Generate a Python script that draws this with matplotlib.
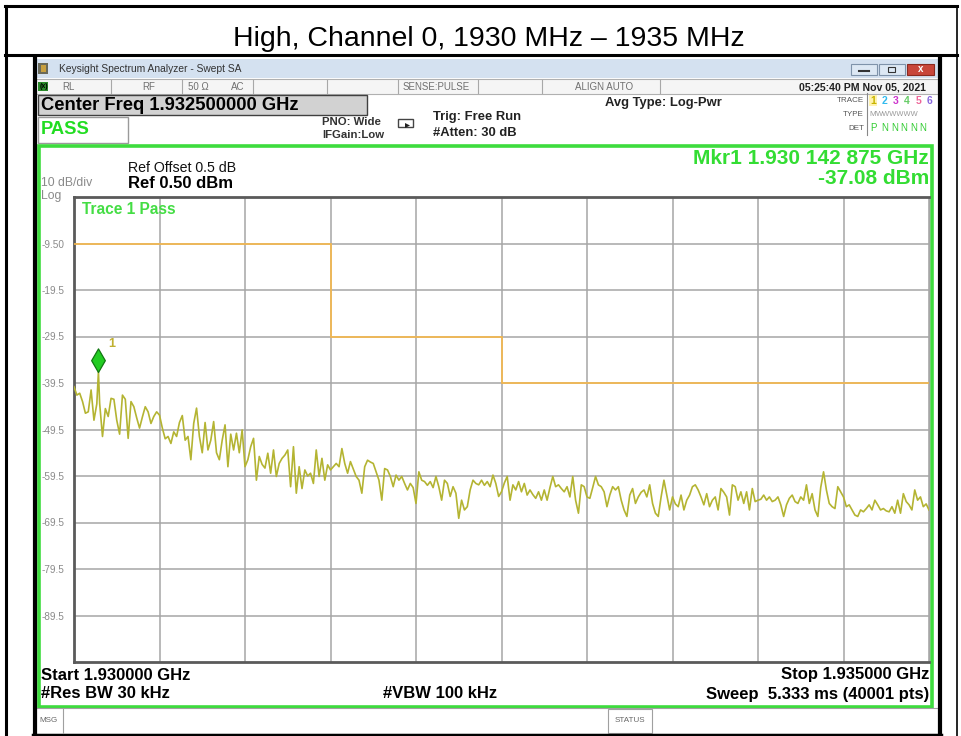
import numpy as np
import matplotlib
matplotlib.use("Agg")
import matplotlib.pyplot as plt
from matplotlib.patches import Rectangle, Polygon
from matplotlib.path import Path
from matplotlib.lines import Line2D

plt.rcParams['font.family'] = ['Liberation Sans', 'DejaVu Sans']

# ---------------- data ----------------
start_mhz = 1930.0
stop_mhz = 1935.0

# measured trace (dBm), 30 samples per division, 10 divisions + end point
trace_dbm = [
    # 1930.0 - 1930.5
    -40.3, -42.1, -41.7, -43.5, -46.0, -45.7, -41.0, -47.5, -44.0, -43.9,
    -51.0, -45.0, -46.7, -42.8, -43.0, -47.5, -50.5, -42.1, -43.0, -51.4,
    -43.5, -44.6, -47.0, -49.2, -46.8, -44.6, -45.7, -48.2, -46.7, -45.7,
    # 1930.5 - 1931.0
    -46.4, -49.2, -51.5, -51.0, -52.5, -50.0, -51.0, -48.0, -46.5, -51.8,
    -51.0, -56.0, -48.2, -44.9, -51.0, -54.5, -48.0, -53.9, -51.8, -47.8,
    -54.5, -56.0, -51.8, -48.5, -57.5, -50.5, -53.9, -50.3, -54.5, -49.6,
    # 1931.0 - 1931.5
    -57.5, -56.0, -53.2, -51.4, -60.4, -55.3, -57.0, -57.8, -54.6, -58.9,
    -53.9, -59.6, -56.8, -55.7, -55.0, -53.9, -61.8, -53.2, -63.2, -57.5,
    -62.2, -58.2, -59.5, -58.9, -61.1, -53.9, -59.6, -55.7, -60.4, -57.1,
    # 1931.5 - 1932.0
    -58.2, -57.5, -56.8, -57.5, -53.6, -56.8, -58.9, -56.4, -58.0, -59.6,
    -60.4, -63.2, -57.5, -56.1, -56.5, -56.8, -58.6, -60.4, -64.7, -57.9,
    -58.2, -59.6, -61.8, -59.3, -60.4, -59.6, -61.1, -62.5, -61.1, -62.0,
    # 1932.0 - 1932.5
    -65.4, -58.6, -60.4, -60.7, -61.5, -60.7, -62.0, -59.6, -61.8, -64.7,
    -60.4, -61.1, -63.9, -61.8, -63.2, -68.6, -64.7, -66.8, -66.1, -62.5,
    -60.4, -61.1, -61.4, -60.4, -61.5, -60.7, -61.8, -59.3, -61.1, -63.9,
    # 1932.5 - 1933.0
    -62.9, -61.0, -59.6, -64.7, -61.4, -62.5, -60.7, -62.9, -61.1, -63.6,
    -62.5, -63.5, -64.3, -62.9, -64.7, -62.5, -64.7, -62.0, -59.6, -61.8,
    -61.4, -62.2, -62.9, -61.8, -64.0, -59.6, -64.7, -67.5, -61.4, -61.8,
    # 1933.0 - 1933.5
    -64.0, -64.3, -62.0, -59.6, -61.4, -61.8, -62.9, -66.1, -63.6, -61.8,
    -62.5, -61.8, -64.7, -66.8, -68.2, -63.6, -62.2, -65.4, -64.0, -63.0,
    -62.5, -64.0, -61.4, -65.4, -67.5, -68.2, -64.0, -60.4, -63.6, -66.8,
    # 1933.5 - 1934.0
    -64.0, -65.5, -66.1, -63.6, -66.8, -64.7, -63.6, -61.8, -61.4, -62.5,
    -64.0, -65.7, -63.3, -66.1, -64.7, -64.0, -66.8, -62.2, -63.0, -64.0,
    -67.9, -61.4, -61.8, -64.7, -62.9, -65.4, -62.9, -66.8, -62.2, -65.0,
    # 1934.0 - 1934.5
    -64.7, -64.5, -63.6, -64.7, -64.0, -65.0, -64.7, -64.0, -65.7, -68.2,
    -65.7, -64.3, -63.6, -65.0, -65.4, -64.0, -64.7, -61.4, -65.4, -63.3,
    -66.8, -68.2, -62.0, -58.6, -62.5, -65.4, -66.1, -66.5, -61.8, -62.9,
    # 1934.5 - 1935.0
    -64.0, -66.1, -65.7, -66.8, -67.9, -68.2, -66.8, -67.2, -66.5, -65.7,
    -66.8, -64.7, -65.7, -66.8, -66.5, -67.0, -67.2, -66.1, -67.5, -64.7,
    -67.5, -63.3, -65.0, -65.7, -66.8, -62.5, -64.7, -64.0, -66.1, -65.5,
    -66.8,
]

marker_mhz = 1930.142875
marker_dbm = -37.08

# limit line: breakpoints (MHz) and levels (dBm)
limit_edges = [1930.0, 1931.5, 1932.5, 1935.0]
limit_levels = [-9.5, -29.5, -39.5]

ref_level = 0.5
db_per_div = 10
ytick_values = [-9.5, -19.5, -29.5, -39.5, -49.5, -59.5, -69.5, -79.5, -89.5]
ytick_labels = ['-9.50', '-19.5', '-29.5', '-39.5', '-49.5', '-59.5', '-69.5', '-79.5', '-89.5']

title = "High, Channel 0, 1930 MHz \u2013 1935 MHz"

# ---------------- figure ----------------
W, H = 961, 736
fig = plt.figure(figsize=(W / 100, H / 100), dpi=100)
fig.patch.set_facecolor('white')

bg = fig.add_axes([0, 0, 1, 1], zorder=0)
bg.set_xlim(0, W); bg.set_ylim(H, 0); bg.axis('off')


def rect(ax, x0, y0, x1, y1, fc='none', ec='none', lw=1.0, z=1):
    ax.add_patch(Rectangle((x0, y0), x1 - x0, y1 - y0, facecolor=fc,
                           edgecolor=ec, linewidth=lw, zorder=z))


def hline(ax, x0, x1, y, c='black', lw=1.0, z=2):
    ax.add_line(Line2D([x0, x1], [y, y], color=c, lw=lw, zorder=z))


def vline(ax, x, y0, y1, c='black', lw=1.0, z=2):
    ax.add_line(Line2D([x, x], [y0, y1], color=c, lw=lw, zorder=z))


def txt(ax, x, y, s, size, color='black', weight='normal', ha='left', va='center', **kw):
    ax.text(x, y, s, fontsize=size, color=color, fontweight=weight, ha=ha, va=va, **kw)


# outer table
hline(bg, 5, 957, 6, lw=2.2)
hline(bg, 5, 957, 55, lw=2.2)
vline(bg, 6, 6, H, lw=2.2)
vline(bg, 957, 6, H, lw=1.2)
txt(bg, 489, 46, title, 20.5, ha='center', va='baseline')

# analyzer window
rect(bg, 33, 57, 941, 736, fc='white', ec='none')
vline(bg, 34.5, 57, 736, lw=3)
vline(bg, 939.5, 57, 736, lw=3)
hline(bg, 33, 941, 734.5, lw=2.5)

# title bar
rect(bg, 36, 59, 938, 78, fc='#d4e1f0', ec='none')
rect(bg, 38, 63, 48, 74, fc='#6a6a5a', ec='none', z=2)
rect(bg, 41, 65, 46, 72, fc='#c8a040', ec='none', z=3)
txt(bg, 59, 69, "Keysight Spectrum Analyzer - Swept SA", 7.4, color='#333333')
rect(bg, 851, 64, 877, 75, fc='#dde8f4', ec='#7f93aa', lw=0.8, z=2)
hline(bg, 859, 869, 71, c='#333333', lw=1.5, z=3)
rect(bg, 879, 64, 905, 75, fc='#dde8f4', ec='#7f93aa', lw=0.8, z=2)
rect(bg, 888, 67, 895, 72, fc='none', ec='#333333', lw=0.8, z=3)
rect(bg, 907, 64, 934, 75, fc='#c8463a', ec='#8a2a20', lw=0.8, z=2)
txt(bg, 920.5, 69.5, "x", 7, color='white', weight='bold', ha='center')

# status row
rect(bg, 36, 79, 938, 94, fc='#f5f5f5', ec='#b0b0b0', lw=0.8)
for xd in [111, 182, 253, 327, 398, 478, 542, 660]:
    vline(bg, xd, 80, 93, c='#a8a8a8', lw=0.8)
rect(bg, 38, 82, 48, 91, fc='#2a8a2a', ec='none', z=2)
txt(bg, 40, 87, "(x)", 5, color='black', weight='bold')
for x, s in [(62, "RL"), (142, "RF"), (188, "50 \u03a9"), (231, "AC"),
             (403, "SENSE:PULSE"), (575, "ALIGN AUTO")]:
    txt(bg, x, 87, s, 7, color='#707070')
txt(bg, 926, 87, "05:25:40 PM Nov 05, 2021", 7.6, color='#222222', weight='bold', ha='right')

# settings
rect(bg, 38, 95, 367, 115, fc='#d2d2d2', ec='#404040', lw=1.0)
txt(bg, 41, 105.5, "Center Freq 1.932500000 GHz", 13.2, weight='bold')
rect(bg, 38, 117, 128, 143, fc='white', ec='#9a9a9a', lw=1.0)
txt(bg, 41, 130, "PASS", 13.2, color='#22dd22', weight='bold')
txt(bg, 322, 122, "PNO: Wide", 8.2, color='#333333', weight='bold')
txt(bg, 322, 135, "IFGain:Low", 8.2, color='#333333', weight='bold')
# trigger loop icon
bg.add_patch(Rectangle((398, 119), 15, 8, facecolor='white', edgecolor='#444444',
                       lw=1.0, zorder=2))
bg.add_patch(Polygon([[405, 123], [410, 125.5], [405, 128]], closed=True,
                     facecolor='#222222', edgecolor='none', zorder=3))
txt(bg, 433, 117, "Trig: Free Run", 9.4, color='#222222', weight='bold')
txt(bg, 433, 133, "#Atten: 30 dB", 9.4, color='#222222', weight='bold')
txt(bg, 605, 103, "Avg Type: Log-Pwr", 9.4, color='#222222', weight='bold')

# trace info block
txt(bg, 864, 100, "TRACE", 5.8, color='#555555', ha='right')
txt(bg, 864, 114, "TYPE", 5.8, color='#555555', ha='right')
txt(bg, 864, 128, "DET", 5.8, color='#555555', ha='right')
vline(bg, 867, 93, 135, c='#888888', lw=0.8)
rect(bg, 869, 95, 877, 106, fc='#fff3b0', ec='none')
trace_cols = ['#c8b400', '#33bbee', '#cc33cc', '#66cc66', '#ee6699', '#8866dd']
for i, c in enumerate(trace_cols):
    txt(bg, 873 + i * 11.3, 101, str(i + 1), 7.5, color=c, weight='bold', ha='center')
txt(bg, 869, 114, "M", 5.8, color='#999999')
txt(bg, 876, 114, "WWWWWW", 5.4, color='#999999')
txt(bg, 870, 128, "P", 7, color='#33cc33')
for i in range(5):
    txt(bg, 885 + i * 9.5, 128, "N", 7, color='#33cc33', ha='center')

# green measurement frame
rect(bg, 38.5, 146, 932, 706.5, fc='white', ec='#3ddc3d', lw=2.6, z=1)

txt(bg, 128, 168, "Ref Offset 0.5 dB", 10.2, color='#111111')
txt(bg, 128, 183, "Ref 0.50 dBm", 12, weight='bold')
txt(bg, 41, 182.5, "10 dB/div", 8.8, color='#8a8a8a')
txt(bg, 41, 195.5, "Log", 8.8, color='#8a8a8a')
txt(bg, 929, 159, "Mkr1 1.930 142 875 GHz", 15, color='#33dd33', weight='bold', ha='right')
txt(bg, 929, 178, "-37.08 dBm", 15, color='#33dd33', weight='bold', ha='right')

txt(bg, 41, 675, "Start 1.930000 GHz", 12, weight='bold')
txt(bg, 41, 694, "#Res BW 30 kHz", 12, weight='bold')
txt(bg, 440, 694, "#VBW 100 kHz", 12, weight='bold', ha='center')
txt(bg, 929, 675, "Stop 1.935000 GHz", 12, weight='bold', ha='right')
txt(bg, 929, 694, "Sweep  5.333 ms (40001 pts)", 12, weight='bold', ha='right')

# message bar
rect(bg, 36, 708, 938, 734, fc='white', ec='#a0a0a0', lw=0.8)
vline(bg, 63, 709, 733, c='#a0a0a0', lw=0.8)
txt(bg, 39, 721, "MSG", 5.8, color='#666666')
rect(bg, 608, 709, 652, 733, fc='white', ec='#a0a0a0', lw=0.8)
txt(bg, 630, 721, "STATUS", 5.8, color='#666666', ha='center')

# ---------------- spectrum plot ----------------
x0, x1, y0, y1 = 74, 929, 197, 662
ax = fig.add_axes([x0 / W, 1 - y1 / H, (x1 - x0) / W, (y1 - y0) / H], zorder=2)
ax.set_facecolor('white')
ax.set_xlim(start_mhz, stop_mhz)
ax.set_ylim(ref_level - 10 * db_per_div, ref_level)

ax.set_xticks(np.linspace(start_mhz, stop_mhz, 11))
ax.set_yticks(ytick_values)
ax.set_yticklabels(ytick_labels, fontsize=7.2, color='#8a8a8a')
ax.tick_params(axis='y', length=0, pad=7)
ax.tick_params(axis='x', length=0, labelbottom=False)
ax.grid(True, color='#a6a6a6', lw=1.1)
for side in ['top', 'left', 'bottom']:
    ax.spines[side].set_color('#5a5a5a')
    ax.spines[side].set_linewidth(2.0)
ax.spines['right'].set_color('#a6a6a6')
ax.spines['right'].set_linewidth(1.0)

# limit line
ax.stairs(limit_levels, limit_edges, color='#f7b84a', lw=1.2, baseline=None, zorder=3)

# trace, with the marker sample placed at its frequency
n_pts = len(trace_dbm)
freqs = np.linspace(start_mhz, stop_mhz, n_pts)
levels = np.array(trace_dbm)
k = np.searchsorted(freqs, marker_mhz)
freqs = np.insert(freqs, k, marker_mhz)
levels = np.insert(levels, k, marker_dbm)
ax.plot(freqs, levels, color='#b4b432', lw=1.2, zorder=4)

# marker diamond sitting on the trace point
diamond = Path([(0, 0), (0.58, 1), (0, 2), (-0.58, 1), (0, 0)],
               [Path.MOVETO, Path.LINETO, Path.LINETO, Path.LINETO, Path.CLOSEPOLY])
ax.plot([marker_mhz], [marker_dbm], marker=diamond, ms=34, mfc='#22cc22',
        mec='#117711', mew=0.9, ls='none', zorder=5)
ax.annotate("1", (marker_mhz, marker_dbm), xytext=(7, 20), textcoords='offset points',
            fontsize=9, color='#c0b030', fontweight='bold', ha='left', va='center', zorder=6)

ax.text(0.0095, 0.973, "Trace 1 Pass", transform=ax.transAxes, fontsize=11.2,
        color='#44dd44', fontweight='bold', ha='left', va='center', zorder=6)

fig.savefig("out.png", dpi=100)
